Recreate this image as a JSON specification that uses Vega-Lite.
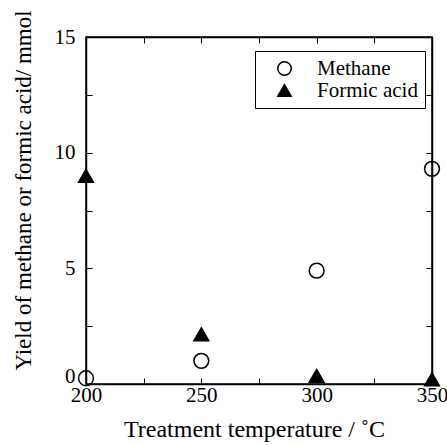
{
  "$schema": "https://vega.github.io/schema/vega-lite/v6.json",
  "autosize": "none",
  "width": 346,
  "height": 347,
  "padding": {"left": 86, "top": 37, "right": 15, "bottom": 61},
  "background": "white",
  "config": {
    "view": {"stroke": "black", "strokeWidth": 1.5},
    "font": "Liberation Serif",
    "style": {"guide-title": {"fontWeight": "normal"}},
    "axis": {
      "domainColor": "black",
      "domainWidth": 1.5,
      "tickColor": "black",
      "tickWidth": 1,
      "tickSize": -6,
      "grid": false,
      "labelFlush": false,
      "labelFont": "Liberation Serif",
      "labelFontSize": 21,
      "labelColor": "black",
      "titleFont": "Liberation Serif",
      "titleFontSize": 24,
      "titleFontWeight": "normal",
      "titleColor": "black"
    },
    "legend": {
      "fillColor": "white",
      "strokeColor": "black",
      "padding": 7,
      "symbolOffset": 12,
      "labelFont": "Liberation Serif",
      "labelFontSize": 21,
      "labelColor": "black",
      "labelOffset": 22,
      "rowPadding": 0,
      "symbolSize": 180,
      "symbolStrokeWidth": 1.5
    }
  },
  "data": {
    "values": [
      {"temp": 200, "yield": 0.25, "series": "Methane"},
      {"temp": 250, "yield": 1.0, "series": "Methane"},
      {"temp": 300, "yield": 4.9, "series": "Methane"},
      {"temp": 350, "yield": 9.3, "series": "Methane"},
      {"temp": 200, "yield": 9.0, "series": "Formic acid"},
      {"temp": 250, "yield": 2.15, "series": "Formic acid"},
      {"temp": 300, "yield": 0.35, "series": "Formic acid"},
      {"temp": 350, "yield": 0.2, "series": "Formic acid"}
    ]
  },
  "resolve": {"axis": {"x": "independent", "y": "independent"}},
  "layer": [
    {
      "mark": {"type": "point", "strokeWidth": 1.5, "size": 220, "opacity": 1},
      "encoding": {
        "x": {
          "field": "temp", "type": "quantitative",
          "scale": {"domain": [200, 350], "nice": false, "zero": false},
          "axis": {
            "orient": "bottom",
            "values": [200, 225, 250, 275, 300, 325, 350],
            "labelExpr": "datum.value % 50 == 0 ? datum.label : ''",
            "labelPadding": 6,
            "labelFlush": false,
            "title": "Treatment temperature / ˚C",
            "titleFontWeight": "normal",
            "titlePadding": 12,
            "titleX": 168
          }
        },
        "y": {
          "field": "yield", "type": "quantitative",
          "scale": {"domain": [0, 15], "nice": false},
          "axis": {
            "orient": "left",
            "values": [0, 2.5, 5, 7.5, 10, 12.5, 15],
            "labelExpr": "datum.value % 5 == 0 ? datum.label : ''",
            "labelPadding": 17,
            "labelFlush": false,
            "labelOffset": {"condition": {"test": "datum.value == 0", "value": -8}, "value": 0},
            "title": "Yield of methane or formic acid/ mmol",
            "titleFontSize": 23,
            "titleFontWeight": "normal",
            "titlePadding": 19,
            "titleY": 153
          }
        },
        "shape": {
          "field": "series", "type": "nominal",
          "scale": {"domain": ["Methane", "Formic acid"], "range": ["circle", "triangle-up"]},
          "legend": {
            "title": null,
            "orient": "none",
            "legendX": 169,
            "legendY": 14
          }
        },
        "fill": {
          "field": "series", "type": "nominal",
          "scale": {"domain": ["Methane", "Formic acid"], "range": ["transparent", "black"]}
        },
        "stroke": {"value": "black"}
      }
    },
    {
      "mark": {"type": "point", "opacity": 0},
      "encoding": {
        "x": {
          "field": "temp", "type": "quantitative",
          "axis": {
            "orient": "top",
            "values": [200, 225, 250, 275, 300, 325, 350],
            "labels": false,
            "title": null
          }
        },
        "y": {
          "field": "yield", "type": "quantitative",
          "axis": {
            "orient": "right",
            "values": [0, 2.5, 5, 7.5, 10, 12.5, 15],
            "labels": false,
            "title": null
          }
        }
      }
    }
  ]
}
